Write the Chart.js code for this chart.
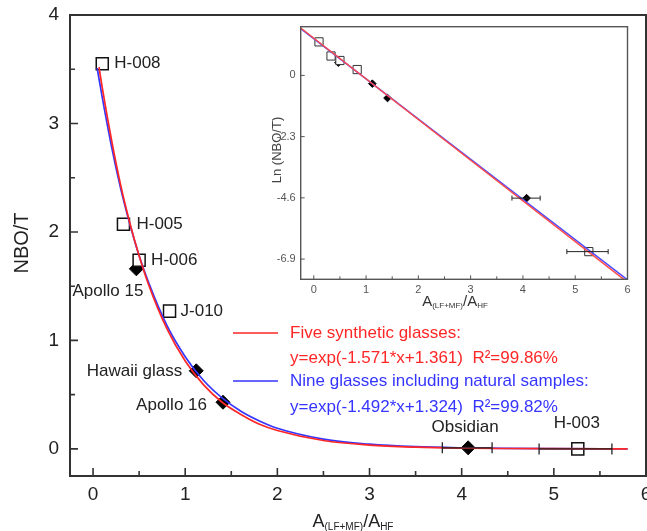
<!DOCTYPE html>
<html>
<head>
<meta charset="utf-8">
<script src="https://cdn.jsdelivr.net/npm/chart.js@4.4.1/dist/chart.umd.min.js"></script>
<style>
html, body { margin: 0; padding: 0; background: #fff; }
#wrap { position: relative; width: 647px; height: 531px; overflow: hidden; }
#main { position: absolute; left: 0; top: 0; }
#inset { position: absolute; left: 260px; top: 10px; }
</style>
</head>
<body>
<div id="wrap">
<canvas id="main" width="647" height="531"></canvas>
<canvas id="inset" width="387" height="300"></canvas>
</div>
<script>
// samples
const names   = ['H-008', 'H-005', 'H-006', 'Apollo 15', 'J-010', 'Hawaii glass', 'Apollo 16', 'Obsidian', 'H-003'];
const sampleX = [0.10, 0.33, 0.50, 0.47, 0.83, 1.12, 1.41, 4.07, 5.26];
const nboT    = [3.55, 2.07, 1.74, 1.66, 1.27, 0.72, 0.43, 0.01, 0.00];
const lnNboT  = [1.26, 0.73, 0.56, 0.48, 0.22, -0.31, -0.85, -4.61, -6.62];
const natural = [false, false, false, true, false, true, true, true, false];

// x error bars (Obsidian, H-003)
const errIdx = [7, 8];
const errLo  = [3.79, 4.84];
const errHi  = [4.33, 5.63];

// fitted curves as drawn in the main plot
const redX   = [0.065, 0.1, 0.2, 0.3, 0.4, 0.5, 0.6, 0.8, 1.0, 1.2, 1.4, 1.6, 1.8, 2.0, 2.5, 3.0, 3.5, 4.0, 4.5, 5.0, 5.8];
const redY   = [3.52, 3.33, 2.85, 2.43, 2.08, 1.78, 1.52, 1.11, 0.81, 0.59, 0.43, 0.32, 0.23, 0.17, 0.077, 0.035, 0.016, 0.007, 0.0033, 0.0015, 0.0004];
const blueX  = [0.045, 0.1, 0.2, 0.3, 0.4, 0.5, 0.6, 0.8, 1.0, 1.2, 1.4, 1.6, 1.8, 2.0, 2.5, 3.0, 3.5, 4.0, 4.5, 5.0, 5.8];
const blueY  = [3.51, 3.24, 2.79, 2.40, 2.07, 1.78, 1.54, 1.14, 0.85, 0.63, 0.47, 0.35, 0.26, 0.19, 0.09, 0.043, 0.020, 0.0096, 0.0046, 0.0022, 0.0007];

// straight fits in the inset (ln scale)
const insetLineX = [-0.25, 6.0];
const insetRedY  = [1.78, -7.77];
const insetBlueY = [1.76, -7.68];

// ticks
const xTicks      = [0, 1, 2, 3, 4, 5, 6];
const xMinor      = [0.5, 1.5, 2.5, 3.5, 4.5, 5.5];
const yTicks      = [0, 1, 2, 3, 4];
const yMinor      = [0.5, 1.5, 2.5, 3.5];
const insetYTicks = [0, -2.3, -4.6, -6.9];

const legendText = [
  ['Five synthetic glasses:', 'y=exp(-1.571*x+1.361)  R\u00b2=99.86%'],
  ['Nine glasses including natural samples:', 'y=exp(-1.492*x+1.324)  R\u00b2=99.82%']
];

const RED = '#ff2626';
const BLUE = '#3535ff';
const FONT = "'Liberation Sans', Arial, sans-serif";
Chart.defaults.font.family = FONT;

function pts(xs, ys) { return xs.map((x, i) => ({ x: x, y: ys[i] })); }
function pick(ys, want) {
  const out = [];
  sampleX.forEach((x, i) => { if (natural[i] === want) out.push({ x: x, y: ys[i] }); });
  return out;
}
function errSets(ys, cap, w) {
  return errIdx.map((k, j) => ({
    data: [{ x: errLo[j], y: ys[k] }, { x: errHi[j], y: ys[k] }],
    showLine: true, borderColor: '#222', borderWidth: w,
    pointStyle: 'line', rotation: 90, pointRadius: cap,
    pointBorderColor: '#222', pointBorderWidth: w, order: 0
  }));
}

// frame + inward ticks
const framePlugin = {
  id: 'frame',
  afterDraw(chart, args, o) {
    const { ctx, chartArea: a, scales: { x, y } } = chart;
    ctx.save();
    ctx.strokeStyle = o.color;
    ctx.lineWidth = o.width;
    ctx.strokeRect(a.left, a.top, a.right - a.left, a.bottom - a.top);
    ctx.lineWidth = o.tickWidth;
    ctx.beginPath();
    o.xMajor.forEach(v => { const p = x.getPixelForValue(v); ctx.moveTo(p, a.bottom); ctx.lineTo(p, a.bottom - o.major); });
    o.xMinor.forEach(v => { const p = x.getPixelForValue(v); ctx.moveTo(p, a.bottom); ctx.lineTo(p, a.bottom - o.minor); });
    o.yMajor.forEach(v => { const p = y.getPixelForValue(v); ctx.moveTo(a.left, p); ctx.lineTo(a.left + o.major, p); });
    o.yMinor.forEach(v => { const p = y.getPixelForValue(v); ctx.moveTo(a.left, p); ctx.lineTo(a.left + o.minor, p); });
    ctx.stroke();
    if (o.xLabels) {
      ctx.fillStyle = o.labelColor;
      ctx.font = o.labelSize + 'px ' + FONT;
      ctx.textAlign = 'center';
      ctx.textBaseline = 'middle';
      o.xMajor.forEach(v => ctx.fillText(String(v), x.getPixelForValue(v), a.bottom + o.labelGap));
    }
    ctx.restore();
  }
};

function drawSubTitle(ctx, cx, cy, big, small, color) {
  const parts = [['A', 0], ['(LF+MF)', 1], ['/A', 0], ['HF', 1]];
  ctx.save();
  ctx.fillStyle = color;
  ctx.textBaseline = 'middle';
  ctx.textAlign = 'left';
  let w = 0;
  parts.forEach(p => { ctx.font = (p[1] ? small : big) + 'px ' + FONT; w += ctx.measureText(p[0]).width; });
  let xx = cx - w / 2;
  parts.forEach(p => {
    ctx.font = (p[1] ? small : big) + 'px ' + FONT;
    ctx.fillText(p[0], xx, cy + (p[1] ? big * 0.28 : 0));
    xx += ctx.measureText(p[0]).width;
  });
  ctx.restore();
}

// label offsets for the point names: [dx, dy, align]
const labelOffsets = [
  [12, 0, 'left'], [13, 0, 'left'], [12, 0, 'left'], [7, 22, 'right'], [11, 0, 'left'],
  [-14, 1, 'right'], [-16, 3, 'right'], [-3, -20, 'center'], [-1, -26, 'center']
];

const mainText = {
  id: 'mainText',
  afterDraw(chart) {
    const { ctx, scales: { x, y } } = chart;
    ctx.save();
    ctx.fillStyle = '#222';
    ctx.font = '17px ' + FONT;
    ctx.textBaseline = 'middle';
    names.forEach((n, i) => {
      const o = labelOffsets[i];
      ctx.textAlign = o[2];
      ctx.fillText(n, x.getPixelForValue(sampleX[i]) + o[0], y.getPixelForValue(nboT[i]) + o[1]);
    });
    // legend
    const rows = [[333, 358, RED], [381, 407, BLUE]];
    rows.forEach((r, k) => {
      ctx.strokeStyle = r[2];
      ctx.lineWidth = 1.5;
      ctx.beginPath(); ctx.moveTo(233, r[0]); ctx.lineTo(278, r[0]); ctx.stroke();
      ctx.fillStyle = r[2];
      ctx.textAlign = 'left';
      ctx.font = '17px ' + FONT;
      ctx.fillText(legendText[k][0], 290, r[0]);
      ctx.fillText(legendText[k][1], 290, r[1]);
    });
    // axis titles
    ctx.fillStyle = '#222';
    ctx.font = '20px ' + FONT;
    ctx.textAlign = 'center';
    ctx.translate(22, 243);
    ctx.rotate(-Math.PI / 2);
    ctx.fillText('NBO/T', 0, 0);
    ctx.restore();
    drawSubTitle(ctx, 353, 522, 18, 10, '#222');
  }
};

const insetText = {
  id: 'insetText',
  afterDraw(chart) {
    const { ctx } = chart;
    ctx.save();
    ctx.fillStyle = '#444';
    ctx.font = '13px ' + FONT;
    ctx.textAlign = 'center';
    ctx.textBaseline = 'middle';
    ctx.translate(17, 140);
    ctx.rotate(-Math.PI / 2);
    ctx.fillText('Ln (NBO/T)', 0, 0);
    ctx.restore();
    drawSubTitle(ctx, 195, 292, 15, 8, '#333');
  }
};

function axis(min, max, ticks, size, pad, color, afterFit, show) {
  return {
    type: 'linear', min: min, max: max,
    afterBuildTicks: s => { s.ticks = ticks.map(v => ({ value: v })); },
    ticks: { display: show, font: { size: size }, color: color, padding: pad, maxRotation: 0, autoSkip: false, callback: v => String(v) },
    grid: { display: false, drawTicks: false },
    border: { display: false },
    afterFit: afterFit
  };
}

new Chart(document.getElementById('main'), {
  type: 'scatter',
  data: {
    datasets: [
      ...errSets(nboT, 5.5, 1.3),
      { data: pts(redX, redY), showLine: true, borderColor: RED, borderWidth: 1.7, pointRadius: 0, cubicInterpolationMode: 'monotone', order: 1 },
      { data: pts(blueX, blueY), showLine: true, borderColor: BLUE, borderWidth: 1.7, pointRadius: 0, cubicInterpolationMode: 'monotone', order: 1 },
      { data: pick(nboT, false), pointStyle: 'rect', pointRadius: 8.5, backgroundColor: '#fff', borderColor: '#111', borderWidth: 1.5, order: 2 },
      { data: pick(nboT, true), pointStyle: 'rectRot', pointRadius: 7, backgroundColor: '#000', borderColor: '#000', borderWidth: 1, order: 2 }
    ]
  },
  options: {
    responsive: false, animation: false, devicePixelRatio: 1,
    layout: { autoPadding: false, padding: { left: 0, top: 15, right: 1, bottom: 0 } },
    plugins: {
      legend: { display: false }, tooltip: { enabled: false },
      frame: { color: '#333', width: 2, tickWidth: 1.6, major: 8, minor: 5, xMajor: xTicks, xMinor: xMinor, yMajor: yTicks, yMinor: yMinor,
               xLabels: true, labelSize: 19, labelColor: '#222', labelGap: 19 }
    },
    scales: {
      x: axis(-0.25, 6, xTicks, 19, 8, '#222', s => { s.height = 55; s.paddingLeft = 0; s.paddingRight = 0; }, false),
      y: axis(-0.25, 4, yTicks, 19, 11, '#222', s => { s.width = 70; s.paddingTop = 0; s.paddingBottom = 0; }, true)
    }
  },
  plugins: [framePlugin, mainText]
});

new Chart(document.getElementById('inset'), {
  type: 'scatter',
  data: {
    datasets: [
      ...errSets(lnNboT, 2.5, 1),
      { data: pts(insetLineX, insetRedY), showLine: true, borderColor: '#ff4a4a', borderWidth: 1.5, pointRadius: 0, order: 1 },
      { data: pts(insetLineX, insetBlueY), showLine: true, borderColor: '#4a4aff', borderWidth: 1.5, pointRadius: 0, order: 1 },
      { data: pick(lnNboT, false), pointStyle: 'rect', pointRadius: 5.8, backgroundColor: '#fff', borderColor: '#333', borderWidth: 1, order: 2 },
      { data: pick(lnNboT, true), pointStyle: 'rectRot', pointRadius: 3.8, backgroundColor: '#000', borderColor: '#000', borderWidth: 1, order: 2 }
    ]
  },
  options: {
    responsive: false, animation: false, devicePixelRatio: 1,
    layout: { autoPadding: false, padding: { left: 0, top: 16.7, right: 19.5, bottom: 0 } },
    plugins: {
      legend: { display: false }, tooltip: { enabled: false },
      frame: { color: '#555', width: 1.4, tickWidth: 1, major: 4, minor: 3, xMajor: xTicks, xMinor: xMinor, yMajor: insetYTicks, yMinor: [] }
    },
    scales: {
      x: axis(-0.25, 6, xTicks, 11, 4, '#555', s => { s.height = 30.7; s.paddingLeft = 0; s.paddingRight = 0; }, true),
      y: axis(-7.66, 1.83, insetYTicks, 11, 5, '#555', s => { s.width = 40.7; s.paddingTop = 0; s.paddingBottom = 0; }, true)
    }
  },
  plugins: [framePlugin, insetText]
});
</script>
</body>
</html>
